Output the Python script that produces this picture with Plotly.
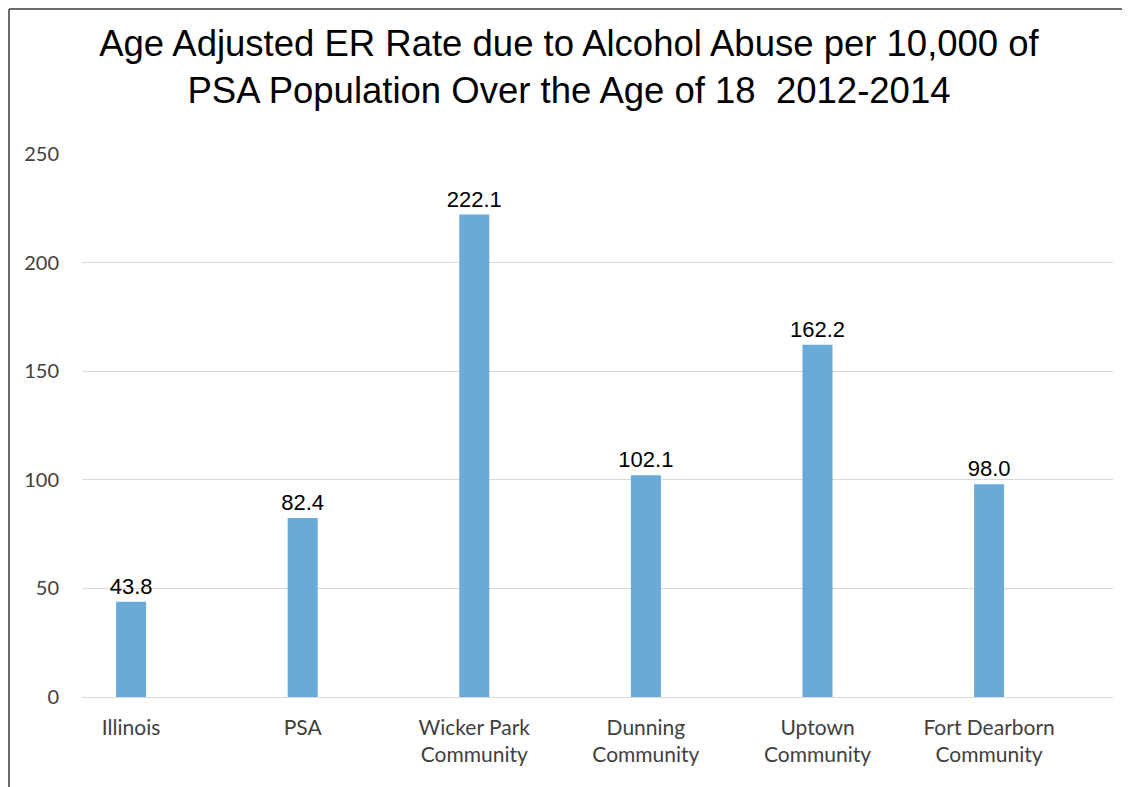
import plotly.graph_objects as go

categories = ["Illinois", "PSA", "Wicker Park<br>Community", "Dunning<br>Community",
              "Uptown<br>Community", "Fort Dearborn<br>Community"]
values = [43.8, 82.4, 222.1, 102.1, 162.2, 98.0]
value_labels = ["43.8", "82.4", "222.1", "102.1", "162.2", "98.0"]
y_ticks = [0, 50, 100, 150, 200, 250]

OFF = 8  # page body margin offset
W, H = 1130 - OFF, 787 - OFF
ML, MR, MT, MB = 82 - OFF, 17, 154 - OFF, 90
pw, ph = W - ML - MR, H - MT - MB

fig = go.Figure(go.Bar(
    x=categories, y=values, text=value_labels, textposition="outside",
    textfont=dict(family="Liberation Sans, Arial, sans-serif", size=22, color="#000000"),
    marker=dict(color="#6AAAD9", line=dict(width=0)),
    width=0.175, cliponaxis=False, constraintext="none",
))

def px_x(x):
    return (x - ML) / pw

def px_y(y):
    return (H - MB - y) / ph

border = dict(color="#6b6b6b", width=2)
fig.add_shape(type="line", xref="paper", yref="paper",
              x0=px_x(1), x1=px_x(1), y0=px_y(1), y1=px_y(H), line=border)
fig.add_shape(type="line", xref="paper", yref="paper",
              x0=px_x(1), x1=px_x(W), y0=px_y(1), y1=px_y(1), line=border)

fig.update_layout(
    width=W, height=H,
    margin=dict(l=ML, r=MR, t=MT, b=MB, autoexpand=False),
    paper_bgcolor="white", plot_bgcolor="white",
    title=dict(text="Age Adjusted ER Rate due to Alcohol Abuse per 10,000 of<br>PSA Population Over the Age of 18  2012-2014",
               x=0.5, xref="container", xanchor="center", y=1 - 48 / H, yanchor="middle",
               font=dict(family="Liberation Sans, Arial, sans-serif", size=36.5, color="#000000")),
    showlegend=False,
)
fig.update_xaxes(
    range=[-0.286, 5.722],
    showgrid=False, showline=False, ticks="", automargin=False,
    tickfont=dict(family="Lato, Open Sans, sans-serif", size=21, color="#404040"),
    ticklabelstandoff=16,
)
fig.update_yaxes(
    range=[0, 250], tickvals=y_ticks, showgrid=True, gridcolor="#d9d9d9", gridwidth=1,
    zeroline=True, zerolinecolor="#d9d9d9", zerolinewidth=1, showline=False, ticks="",
    automargin=False,
    tickfont=dict(family="Lato, Open Sans, sans-serif", size=20, color="#404040"),
    ticklabelstandoff=22,
)

fig.write_html("out.html")
